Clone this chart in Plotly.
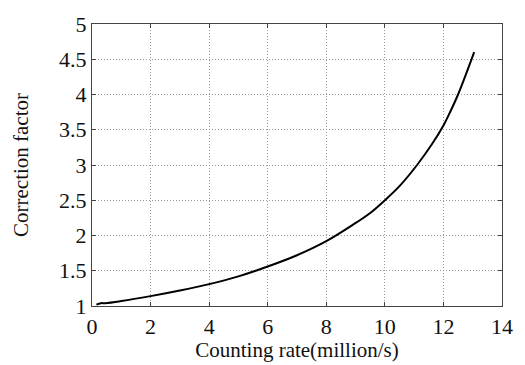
import plotly.graph_objects as go

rate = [0.15, 0.3, 0.45, 1, 2, 3, 4, 5, 6, 7, 8, 8.9, 9.5, 10, 10.5, 11.1, 11.6, 12, 12.25, 12.5, 12.8, 13.05]
factor = [1.02, 1.04, 1.04, 1.07, 1.14, 1.22, 1.31, 1.42, 1.56, 1.72, 1.92, 2.15, 2.32, 2.5, 2.7, 3.0, 3.29, 3.56, 3.77, 4.0, 4.32, 4.6]

x_ticks = [0, 2, 4, 6, 8, 10, 12, 14]
y_ticks = [1, 1.5, 2, 2.5, 3, 3.5, 4, 4.5, 5]

font = "Liberation Serif, Times New Roman, serif"

fig = go.Figure()
fig.add_trace(go.Scatter(x=rate, y=factor, mode="lines",
                         line=dict(color="black", width=2, shape="spline", smoothing=1.0),
                         showlegend=False))

axis_common = dict(showline=True, linecolor="#444", linewidth=1.2, mirror="ticks",
                   ticks="inside", ticklen=4, tickcolor="#444",
                   showgrid=True, gridcolor="#9a9a9a", griddash="1px,2px", gridwidth=1,
                   zeroline=False, tickfont=dict(family=font, size=22, color="#111"))

fig.update_xaxes(range=[0, 14], tickvals=x_ticks, ticktext=[str(v) for v in x_ticks],
                 title=dict(text="Counting rate(million/s)", font=dict(family=font, size=21, color="#111"), standoff=0),
                 **axis_common)
fig.update_yaxes(range=[1, 5], tickvals=y_ticks, ticktext=[f"{v:g}" for v in y_ticks],
                 title=dict(text="Correction factor", font=dict(family=font, size=21, color="#111"), standoff=24),
                 **axis_common)

fig.update_layout(width=525, height=365, margin=dict(l=92, r=21, t=16, b=49),
                  plot_bgcolor="white", paper_bgcolor="white")

fig.write_html("out.html")
